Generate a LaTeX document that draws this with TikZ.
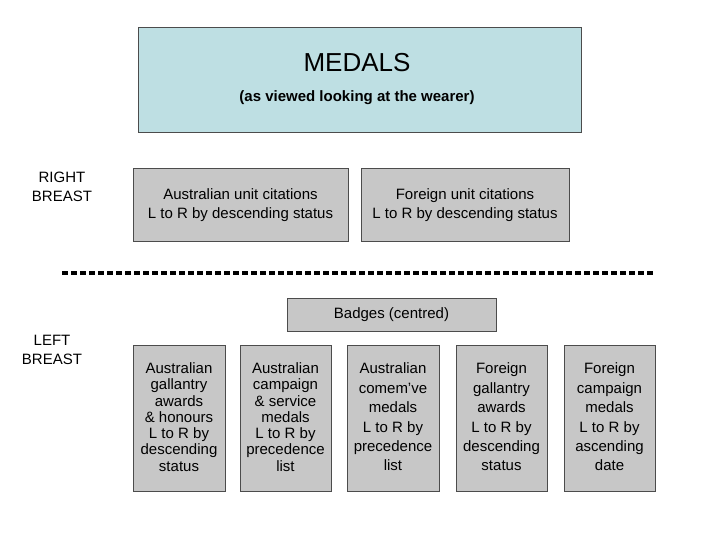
\documentclass[tikz,border=0pt]{standalone}
\usepackage{fontspec}
\setmainfont{Liberation Sans}
\begin{document}
\begin{tikzpicture}[x=1pt,y=-1pt,
 box/.style={draw=black!70,fill=black!22,line width=0.8pt},
 lbl/.style={align=center,inner sep=0pt},
 tA/.style={lbl,font=\fontsize{15}{16.3}\selectfont},
 tB/.style={lbl,font=\fontsize{15}{19.4}\selectfont}]
\useasboundingbox (0,0) rectangle (720,540);
\draw[draw=black!70,fill={rgb,255:red,190;green,223;blue,227},line width=0.8pt] (138,27) rectangle (581,132);
\node[lbl,font=\fontsize{26}{28}\selectfont] (title) at (357,63) {MEDALS};
\node[lbl,font=\bfseries\fontsize{15}{17}\selectfont] (sub) at (357,98) {(as viewed looking at the wearer)};
\node[lbl,font=\fontsize{15}{19}\selectfont] (rb) at (62,187) {RIGHT\\BREAST};
\draw[box] (133,168) rectangle (348,241);
\node[tA,font=\fontsize{15}{19}\selectfont] (au) at (240.5,205) {Australian unit citations\\L to R by descending status};
\draw[box] (361,168) rectangle (569,241);
\node[tA,font=\fontsize{15}{19}\selectfont] (fu) at (465,205) {Foreign unit citations\\L to R by descending status};
\coordinate (d1) at (62,273); \coordinate (d2) at (655,273);
\draw[line width=4.5pt,dash pattern=on 6pt off 3pt] (d1) -- (d2);
\draw[box] (287,298) rectangle (496,331);
\node[lbl,font=\fontsize{15}{17}\selectfont] (bd) at (391.5,315) {Badges (centred)};
\node[lbl,font=\fontsize{15}{19}\selectfont] (lb) at (52,350) {LEFT\\BREAST};
\draw[box] (133,345) rectangle (225,491);
\node[tA] (b1) at (179,417) {Australian\\gallantry\\awards\\\& honours\\L to R by\\descending\\status};
\draw[box] (240,345) rectangle (331,491);
\node[tA] (b2) at (285.5,417) {Australian\\campaign\\\& service\\medals\\L to R by\\precedence\\list};
\draw[box] (347,345) rectangle (439,491);
\node[tB] (b3) at (393,417) {Australian\\comem've\\medals\\L to R by\\precedence\\list};
\draw[box] (456,345) rectangle (547,491);
\node[tB] (b4) at (501.5,417) {Foreign\\gallantry\\awards\\L to R by\\descending\\status};
\draw[box] (564,345) rectangle (655,491);
\node[tB] (b5) at (609.5,417) {Foreign\\campaign\\medals\\L to R by\\ascending\\date};
\end{tikzpicture}
\end{document}
